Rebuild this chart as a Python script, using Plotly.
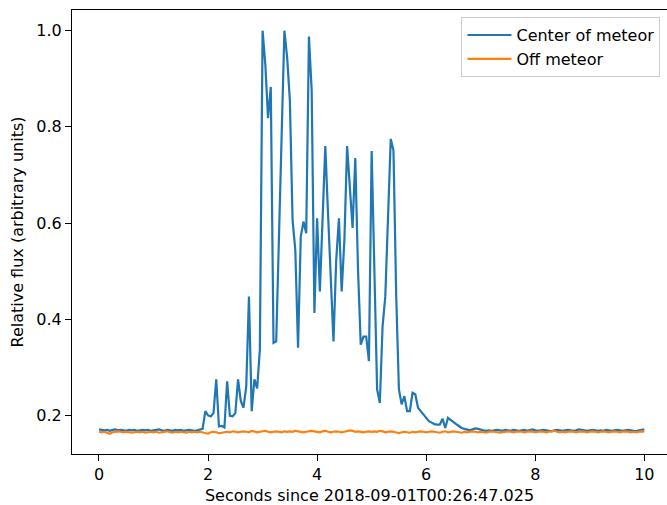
import plotly.graph_objects as go

# Relative flux, sampled every 0.05 s from 0 to 10 s
center_flux = [
    0.171, 0.170, 0.169, 0.170, 0.168, 0.170, 0.171, 0.169, 0.170, 0.169,
    0.168, 0.170, 0.169, 0.170, 0.168, 0.169, 0.170, 0.169, 0.170, 0.168,
    0.169, 0.170, 0.171, 0.169, 0.168, 0.170, 0.169, 0.168, 0.170, 0.169,
    0.170, 0.168, 0.169, 0.170, 0.169, 0.168, 0.169, 0.170, 0.172,
    0.209, 0.200, 0.198, 0.205, 0.275, 0.177, 0.178, 0.175, 0.271, 0.199,
    0.198, 0.205, 0.275, 0.230, 0.216, 0.260, 0.447, 0.209, 0.275, 0.256, 0.337,
    1.000, 0.930, 0.818, 0.883, 0.351, 0.354, 0.570, 0.790, 1.000, 0.945,
    0.855, 0.606, 0.544, 0.341, 0.572, 0.603, 0.579, 0.988, 0.876, 0.413,
    0.610, 0.458, 0.606, 0.760, 0.620, 0.500, 0.354, 0.523, 0.610, 0.458,
    0.565, 0.760, 0.675, 0.590, 0.735, 0.503, 0.347, 0.364, 0.364, 0.313,
    0.750, 0.482, 0.254, 0.226, 0.385, 0.447, 0.634, 0.775, 0.751, 0.450,
    0.254, 0.223, 0.240, 0.209, 0.209, 0.247, 0.244, 0.216, 0.209, 0.202,
    0.194, 0.188, 0.185, 0.182, 0.181, 0.181, 0.193, 0.174, 0.195, 0.190,
    0.186, 0.182, 0.178, 0.174, 0.172, 0.170, 0.169, 0.171, 0.173, 0.172,
    0.170, 0.169, 0.168, 0.169, 0.168, 0.169, 0.170, 0.169, 0.168, 0.170,
    0.169, 0.168, 0.170, 0.169, 0.168, 0.169, 0.170, 0.168, 0.169, 0.171,
    0.169, 0.168, 0.169, 0.170, 0.169, 0.168, 0.167, 0.169, 0.170, 0.169,
    0.168, 0.169, 0.170, 0.169, 0.168, 0.169, 0.171, 0.170, 0.169, 0.168,
    0.169, 0.170, 0.169, 0.168, 0.169, 0.168, 0.170, 0.169, 0.168, 0.169,
    0.170, 0.169, 0.168, 0.169, 0.170, 0.169, 0.168, 0.167, 0.169, 0.170,
    0.171,
]

off_flux = [
    0.166, 0.165, 0.166, 0.164, 0.162, 0.165, 0.166, 0.167, 0.166, 0.165,
    0.166, 0.165, 0.164, 0.165, 0.166, 0.165, 0.166, 0.164, 0.165, 0.166,
    0.165, 0.166, 0.164, 0.165, 0.166, 0.167, 0.165, 0.164, 0.166, 0.165,
    0.166, 0.165, 0.164, 0.166, 0.165, 0.166, 0.165, 0.166, 0.165, 0.164,
    0.162, 0.165, 0.166, 0.165, 0.163, 0.164, 0.165, 0.166, 0.165, 0.167,
    0.166, 0.165, 0.166, 0.167, 0.166, 0.165, 0.168, 0.166, 0.165, 0.166,
    0.167, 0.168, 0.166, 0.165, 0.166, 0.167, 0.166, 0.165, 0.167, 0.166,
    0.167, 0.166, 0.168, 0.167, 0.166, 0.165, 0.166, 0.167, 0.168, 0.167,
    0.166, 0.165, 0.167, 0.168, 0.166, 0.165, 0.166, 0.167, 0.166, 0.165,
    0.166, 0.167, 0.169, 0.168, 0.166, 0.167, 0.166, 0.165, 0.166, 0.167,
    0.166, 0.167, 0.166, 0.168, 0.167, 0.165, 0.166, 0.167, 0.166, 0.164,
    0.163, 0.165, 0.166, 0.165, 0.164, 0.166, 0.165, 0.166, 0.167, 0.166,
    0.165, 0.166, 0.167, 0.166, 0.165, 0.164, 0.166, 0.167, 0.165, 0.166,
    0.167, 0.166, 0.165, 0.164, 0.166, 0.165, 0.166, 0.167, 0.166, 0.165,
    0.166, 0.165, 0.164, 0.166, 0.167, 0.166, 0.165, 0.164, 0.165, 0.166,
    0.167, 0.166, 0.165, 0.166, 0.167, 0.166, 0.165, 0.166, 0.167, 0.166,
    0.165, 0.166, 0.167, 0.166, 0.165, 0.166, 0.167, 0.168, 0.166, 0.165,
    0.166, 0.165, 0.166, 0.167, 0.166, 0.165, 0.166, 0.167, 0.166, 0.165,
    0.166, 0.167, 0.166, 0.165, 0.166, 0.167, 0.166, 0.165, 0.166, 0.167,
    0.166, 0.165, 0.166, 0.167, 0.166, 0.165, 0.166, 0.165, 0.166, 0.167,
    0.166,
]

sample_step = 0.05
seconds = [round(sample_step * i, 2) for i in range(len(center_flux))]

x_ticks = [0, 2, 4, 6, 8, 10]
y_ticks = [0.2, 0.4, 0.6, 0.8, 1.0]
x_title = "Seconds since 2018-09-01T00:26:47.025"
y_title = "Relative flux (arbitrary units)"

FONT = "DejaVu Sans"

fig = go.Figure()
fig.add_trace(go.Scatter(x=seconds, y=center_flux, mode="lines",
                         name="Center of meteor",
                         line=dict(color="#1f77b4", width=2.2)))
fig.add_trace(go.Scatter(x=seconds, y=off_flux, mode="lines",
                         name="Off meteor",
                         line=dict(color="#ff7f0e", width=2.2)))

axis_common = dict(showgrid=False, zeroline=False, showline=True,
                   linecolor="black", linewidth=1.2, ticks="outside",
                   ticklen=6, tickwidth=1.2, tickcolor="black",
                   tickfont=dict(family=FONT, size=16, color="black"))

fig.update_layout(
    width=667, height=505,
    margin=dict(l=72, r=0, t=10, b=51),
    paper_bgcolor="white", plot_bgcolor="white",
    font=dict(family=FONT, size=16, color="black"),
    showlegend=True,
    legend=dict(x=0.989, y=0.984, xanchor="right", yanchor="top",
                bgcolor="rgba(255,255,255,0.8)", bordercolor="#cccccc",
                borderwidth=1, font=dict(family=FONT, size=16),
                itemwidth=44, tracegroupgap=0),
)
fig.update_xaxes(range=[-0.495, 10.416], tickvals=x_ticks,
                 ticktext=[str(v) for v in x_ticks], mirror=True,
                 title=dict(text=x_title, standoff=6,
                            font=dict(family=FONT, size=16)),
                 **axis_common)
fig.update_yaxes(range=[0.1198, 1.043], tickvals=y_ticks,
                 ticktext=[f"{v:.1f}" for v in y_ticks], mirror=False,
                 title=dict(text=y_title, standoff=8,
                            font=dict(family=FONT, size=16)),
                 **axis_common)

fig.write_html("out.html")
